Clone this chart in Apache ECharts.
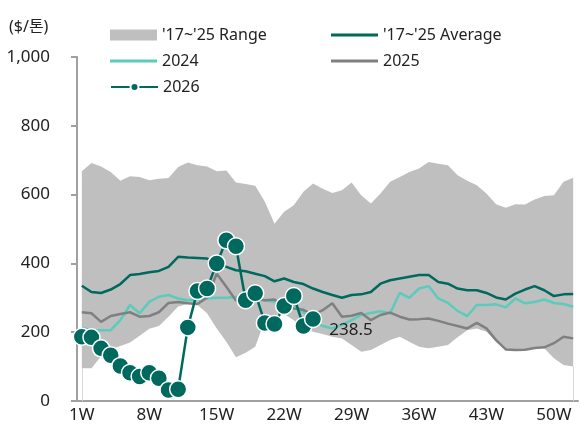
<!DOCTYPE html>
<html>
<head>
<meta charset="utf-8">
<script src="https://cdn.jsdelivr.net/npm/echarts@6/dist/echarts.min.js"></script>
<style>
  html, body { margin: 0; padding: 0; background: #fff; }
  #chart { width: 584px; height: 433px; }
</style>
</head>
<body>
<div id="chart"></div>
<script>
// 주차 (1W ~ 52W)
const weeks = Array.from({ length: 52 }, (_, i) => (i + 1) + 'W');

// '17~'25 범위 상단/하단
const rangeUpper = [
  668, 692, 682, 666, 640, 653, 651, 642, 646, 648,
  680, 693, 685, 682, 668, 670, 635, 631, 626, 579,
  515, 550, 569, 608, 632, 617, 605, 613, 635, 598,
  574, 603, 637, 651, 666, 676, 695, 690, 685, 656,
  640, 627, 603, 572, 562, 572, 571, 586, 596, 598,
  637, 649
];
const rangeLower = [
  95, 95, 130, 150, 160, 170, 190, 210, 218, 245,
  275, 282, 279, 255, 211, 172, 127, 140, 158, 235,
  250, 253, 235, 210, 201, 195, 187, 182, 163, 143,
  148, 163, 177, 187, 172, 158, 153, 158, 163, 185,
  206, 211, 201, 172, 150, 148, 149, 154, 153, 124,
  105, 100
];
// '17~'25 평균
const average = [
  335, 317, 314, 324, 340, 366, 369, 374, 378, 390,
  419, 417, 416, 414, 404, 390, 380, 377, 370, 363,
  348, 356, 346, 340, 327, 317, 308, 300, 308, 310,
  317, 341, 351, 356, 361, 366, 366, 346, 341, 327,
  322, 322, 314, 301, 295, 312, 324, 334, 322, 305,
  310, 311
];
const y2024 = [
  212, 206, 206, 206, 235, 279, 255, 288, 303, 308,
  298, 293, 295, 298, 300, 300, 302, 303, 300, 293,
  288, 283, 279, 258, 232, 218, 211, 221, 235, 250,
  256, 261, 255, 314, 300, 327, 334, 298, 285, 262,
  247, 279, 279, 281, 272, 298, 284, 288, 295, 285,
  282, 274
];
const y2025 = [
  258, 255, 230, 247, 253, 258, 245, 247, 258, 285,
  288, 284, 282, 300, 370, 332, 292, 293, 296, 293,
  295, 276, 269, 265, 250, 264, 284, 245, 248, 256,
  235, 250, 257, 245, 237, 238, 240, 233, 225, 218,
  211, 227, 211, 177, 150, 148, 149, 154, 156, 168,
  187, 182
];
const y2026 = [
  187, 185, 153, 133, 102, 82, 71, 82, 66, 32,
  34, 214, 320, 327, 400, 467, 450, 293, 313, 227,
  224, 276, 305, 218, 238.5
];

const DARK = '#00695e';
const LIGHT = '#5ccbbb';
const GRAY = '#808080';
const RANGE = '#bfbfbf';
const FONT = "'Noto Sans', 'Noto Sans CJK KR', sans-serif";

const chart = echarts.init(document.getElementById('chart'));

// 범례 공통
const legendText = { fontSize: 16, color: '#222', fontFamily: FONT, lineHeight: 20 };
// 선 범례는 얇은 사각형으로 표시
const lineLegend = { itemWidth: 47, itemHeight: 3, itemGap: 0, icon: 'rect', textStyle: legendText };

// 2026 마지막 값만 라벨
const data2026 = y2026.map((v, i) => i === y2026.length - 1 ? {
  value: v,
  label: {
    show: true, position: 'right', distance: 7, offset: [0, 11],
    fontSize: 17, color: '#222', fontFamily: FONT
  }
} : v);

// 범위 영역 양 끝의 세로 테두리선
const first = weeks[0], last = weeks[weeks.length - 1];
const edgeLines = [
  [{ coord: [first, 0] }, { coord: [first, rangeLower[0]] }],
  [{ coord: [last, 0] }, { coord: [last, rangeLower[rangeLower.length - 1]] }]
];

const option = {
  animation: false,
  title: {
    text: '($/톤)',
    left: 4, top: 14,
    textStyle: { fontSize: 16, fontWeight: 'normal', color: '#222', fontFamily: FONT }
  },
  legend: [
    { left: 105, top: 20, itemWidth: 47, itemHeight: 11, icon: 'rect', textStyle: legendText, data: ["'17~'25 Range"] },
    Object.assign({ left: 326, top: 20, data: ["'17~'25 Average"] }, lineLegend),
    Object.assign({ left: 105, top: 46, data: ['2024'] }, lineLegend),
    Object.assign({ left: 326, top: 46, data: ['2025'] }, lineLegend),
    { left: 105, top: 72, itemWidth: 47, itemHeight: 10, textStyle: legendText, data: ['2026'] }
  ],
  grid: { left: 77, right: 6, top: 57, bottom: 32 },
  xAxis: {
    type: 'category',
    data: weeks,
    boundaryGap: true,
    axisLine: { lineStyle: { color: '#a0a0a0', width: 2 } },
    axisTick: { interval: 6, length: 5, lineStyle: { color: '#a0a0a0', width: 2 } },
    axisLabel: { interval: 6, margin: 6, fontSize: 17, color: '#222', fontFamily: FONT },
    splitLine: { show: false }
  },
  yAxis: {
    type: 'value',
    min: 0, max: 1000, interval: 200,
    axisLine: { show: true, lineStyle: { color: '#a0a0a0', width: 2 } },
    axisTick: { show: true, length: 6, lineStyle: { color: '#a0a0a0', width: 2 } },
    axisLabel: {
      margin: 27, fontSize: 17, color: '#222', fontFamily: FONT,
      formatter: v => v.toLocaleString('en-US')
    },
    splitLine: { show: false }
  },
  series: [
    {
      name: 'lower',
      type: 'line',
      stack: 'range',
      data: rangeLower,
      symbol: 'none',
      lineStyle: { width: 0, opacity: 0 },
      silent: true,
      z: 1,
      markLine: {
        silent: true,
        symbol: 'none',
        label: { show: false },
        lineStyle: { color: '#d9d9d9', width: 1, type: 'solid' },
        data: edgeLines
      }
    },
    {
      name: "'17~'25 Range",
      type: 'line',
      stack: 'range',
      data: rangeUpper.map((v, i) => v - rangeLower[i]),
      symbol: 'none',
      itemStyle: { color: RANGE },
      lineStyle: { width: 0, opacity: 0 },
      areaStyle: { color: RANGE, opacity: 1 },
      silent: true,
      z: 1
    },
    {
      name: "'17~'25 Average",
      type: 'line',
      data: average,
      symbol: 'none',
      itemStyle: { color: DARK },
      lineStyle: { color: DARK, width: 2.5 },
      z: 3
    },
    {
      name: '2024',
      type: 'line',
      data: y2024,
      symbol: 'none',
      itemStyle: { color: LIGHT },
      lineStyle: { color: LIGHT, width: 2.5 },
      z: 3
    },
    {
      name: '2025',
      type: 'line',
      data: y2025,
      symbol: 'none',
      itemStyle: { color: GRAY },
      lineStyle: { color: GRAY, width: 2.5 },
      z: 3
    },
    {
      name: '2026',
      type: 'line',
      data: data2026,
      symbol: 'circle',
      symbolSize: 17,
      showAllSymbol: true,
      itemStyle: { color: DARK, borderColor: '#fff', borderWidth: 1.5 },
      lineStyle: { color: DARK, width: 2.5 },
      z: 5
    }
  ]
};

chart.setOption(option);
</script>
</body>
</html>
